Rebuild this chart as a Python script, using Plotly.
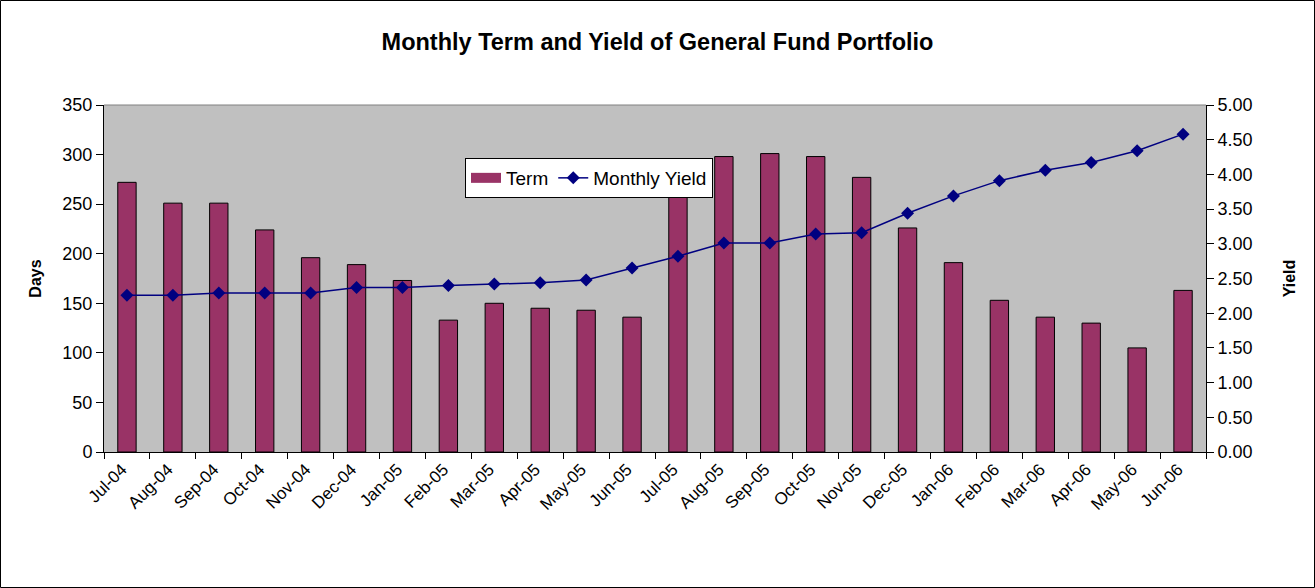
import plotly.graph_objects as go

months = ["Jul-04", "Aug-04", "Sep-04", "Oct-04", "Nov-04", "Dec-04", "Jan-05", "Feb-05",
          "Mar-05", "Apr-05", "May-05", "Jun-05", "Jul-05", "Aug-05", "Sep-05", "Oct-05",
          "Nov-05", "Dec-05", "Jan-06", "Feb-06", "Mar-06", "Apr-06", "May-06", "Jun-06"]
term_days = [272, 251, 251, 224, 196, 189, 173, 133, 150, 145, 143, 136,
             285, 298, 301, 298, 277, 226, 191, 153, 136, 130, 105, 163]
monthly_yield = [2.26, 2.26, 2.29, 2.29, 2.29, 2.37, 2.37, 2.40, 2.42, 2.44, 2.48, 2.65,
                 2.82, 3.01, 3.01, 3.14, 3.16, 3.44, 3.69, 3.91, 4.06, 4.17, 4.34, 4.58]

W, H = 1315, 588
L, R, T, B = 104, 109, 105, 136
pw, ph = W - L - R, H - T - B

font = "Liberation Sans, Arial, sans-serif"
BAR = "#993366"
LINE = "#000080"

fig = go.Figure()
fig.add_trace(go.Bar(
    x=months, y=term_days, name="Term", showlegend=False, legendgroup="term",
    marker=dict(color=BAR, line=dict(color="black", width=1)),
    width=0.4, yaxis="y"))
# legend entry for the bars (wide rectangle like the original)
fig.add_trace(go.Scatter(
    x=[months[0]], y=[None], name="Term", mode="lines", legendgroup="term",
    line=dict(color=BAR, width=10), yaxis="y"))
fig.add_trace(go.Scatter(
    x=months, y=monthly_yield, name="Monthly Yield", mode="lines+markers",
    line=dict(color=LINE, width=1.5),
    marker=dict(symbol="diamond", size=10, color=LINE),
    yaxis="y2"))

fig.update_layout(
    width=W, height=H,
    margin=dict(l=L, r=R, t=T, b=B),
    paper_bgcolor="white", plot_bgcolor="#C0C0C0",
    font=dict(family=font, size=17, color="black"),
    title=dict(text="<b>Monthly Term and Yield of General Fund Portfolio</b>",
               x=0.5, xanchor="center", y=1 - 42 / H, yanchor="middle",
               font=dict(size=23.5)),
    showlegend=True,
    legend=dict(orientation="h", x=(465 - L) / pw, y=(452 - 158) / ph,
                xanchor="left", yanchor="top",
                bgcolor="white", bordercolor="black", borderwidth=1,
                font=dict(size=19), itemwidth=30, traceorder="normal",
                tracegroupgap=0),
    xaxis=dict(type="category", categoryorder="array", categoryarray=months,
               range=[-0.5, len(months) - 0.5], autorange=False,
               tickangle=-45, tickson="boundaries", ticklabelshift=-5,
               ticks="outside", ticklen=6, tickcolor="black",
               showline=True, linecolor="black", showgrid=False,
               tickfont=dict(size=17)),
    yaxis=dict(range=[0, 350], dtick=50, ticks="outside", ticklen=7, tickcolor="black",
               showline=True, linecolor="black", showgrid=False, zeroline=False,
               title=dict(text="<b>Days</b>", font=dict(size=16), standoff=16),
               tickfont=dict(size=18)),
    yaxis2=dict(range=[0, 5], dtick=0.5, tickformat=".2f", overlaying="y", side="right",
                ticks="outside", ticklen=7, tickcolor="black",
                showline=True, linecolor="black", showgrid=False, zeroline=False,
                title=dict(text="<b>Yield</b>", font=dict(size=16), standoff=32),
                tickfont=dict(size=18)),
    shapes=[
        dict(type="line", xref="paper", yref="paper", x0=0, x1=1, y0=1, y1=1,
             line=dict(color="#808080", width=1)),
        dict(type="rect", xref="paper", yref="paper",
             x0=(0.5 - L) / pw, x1=(W - 0.5 - L) / pw,
             y0=-(H - 0.5 - T - ph) / ph, y1=1 + (T - 0.5) / ph,
             line=dict(color="black", width=1), layer="above"),
    ],
)

fig.write_html("out.html", config={"displayModeBar": False},
               post_script="document.body.style.margin='0px';")
